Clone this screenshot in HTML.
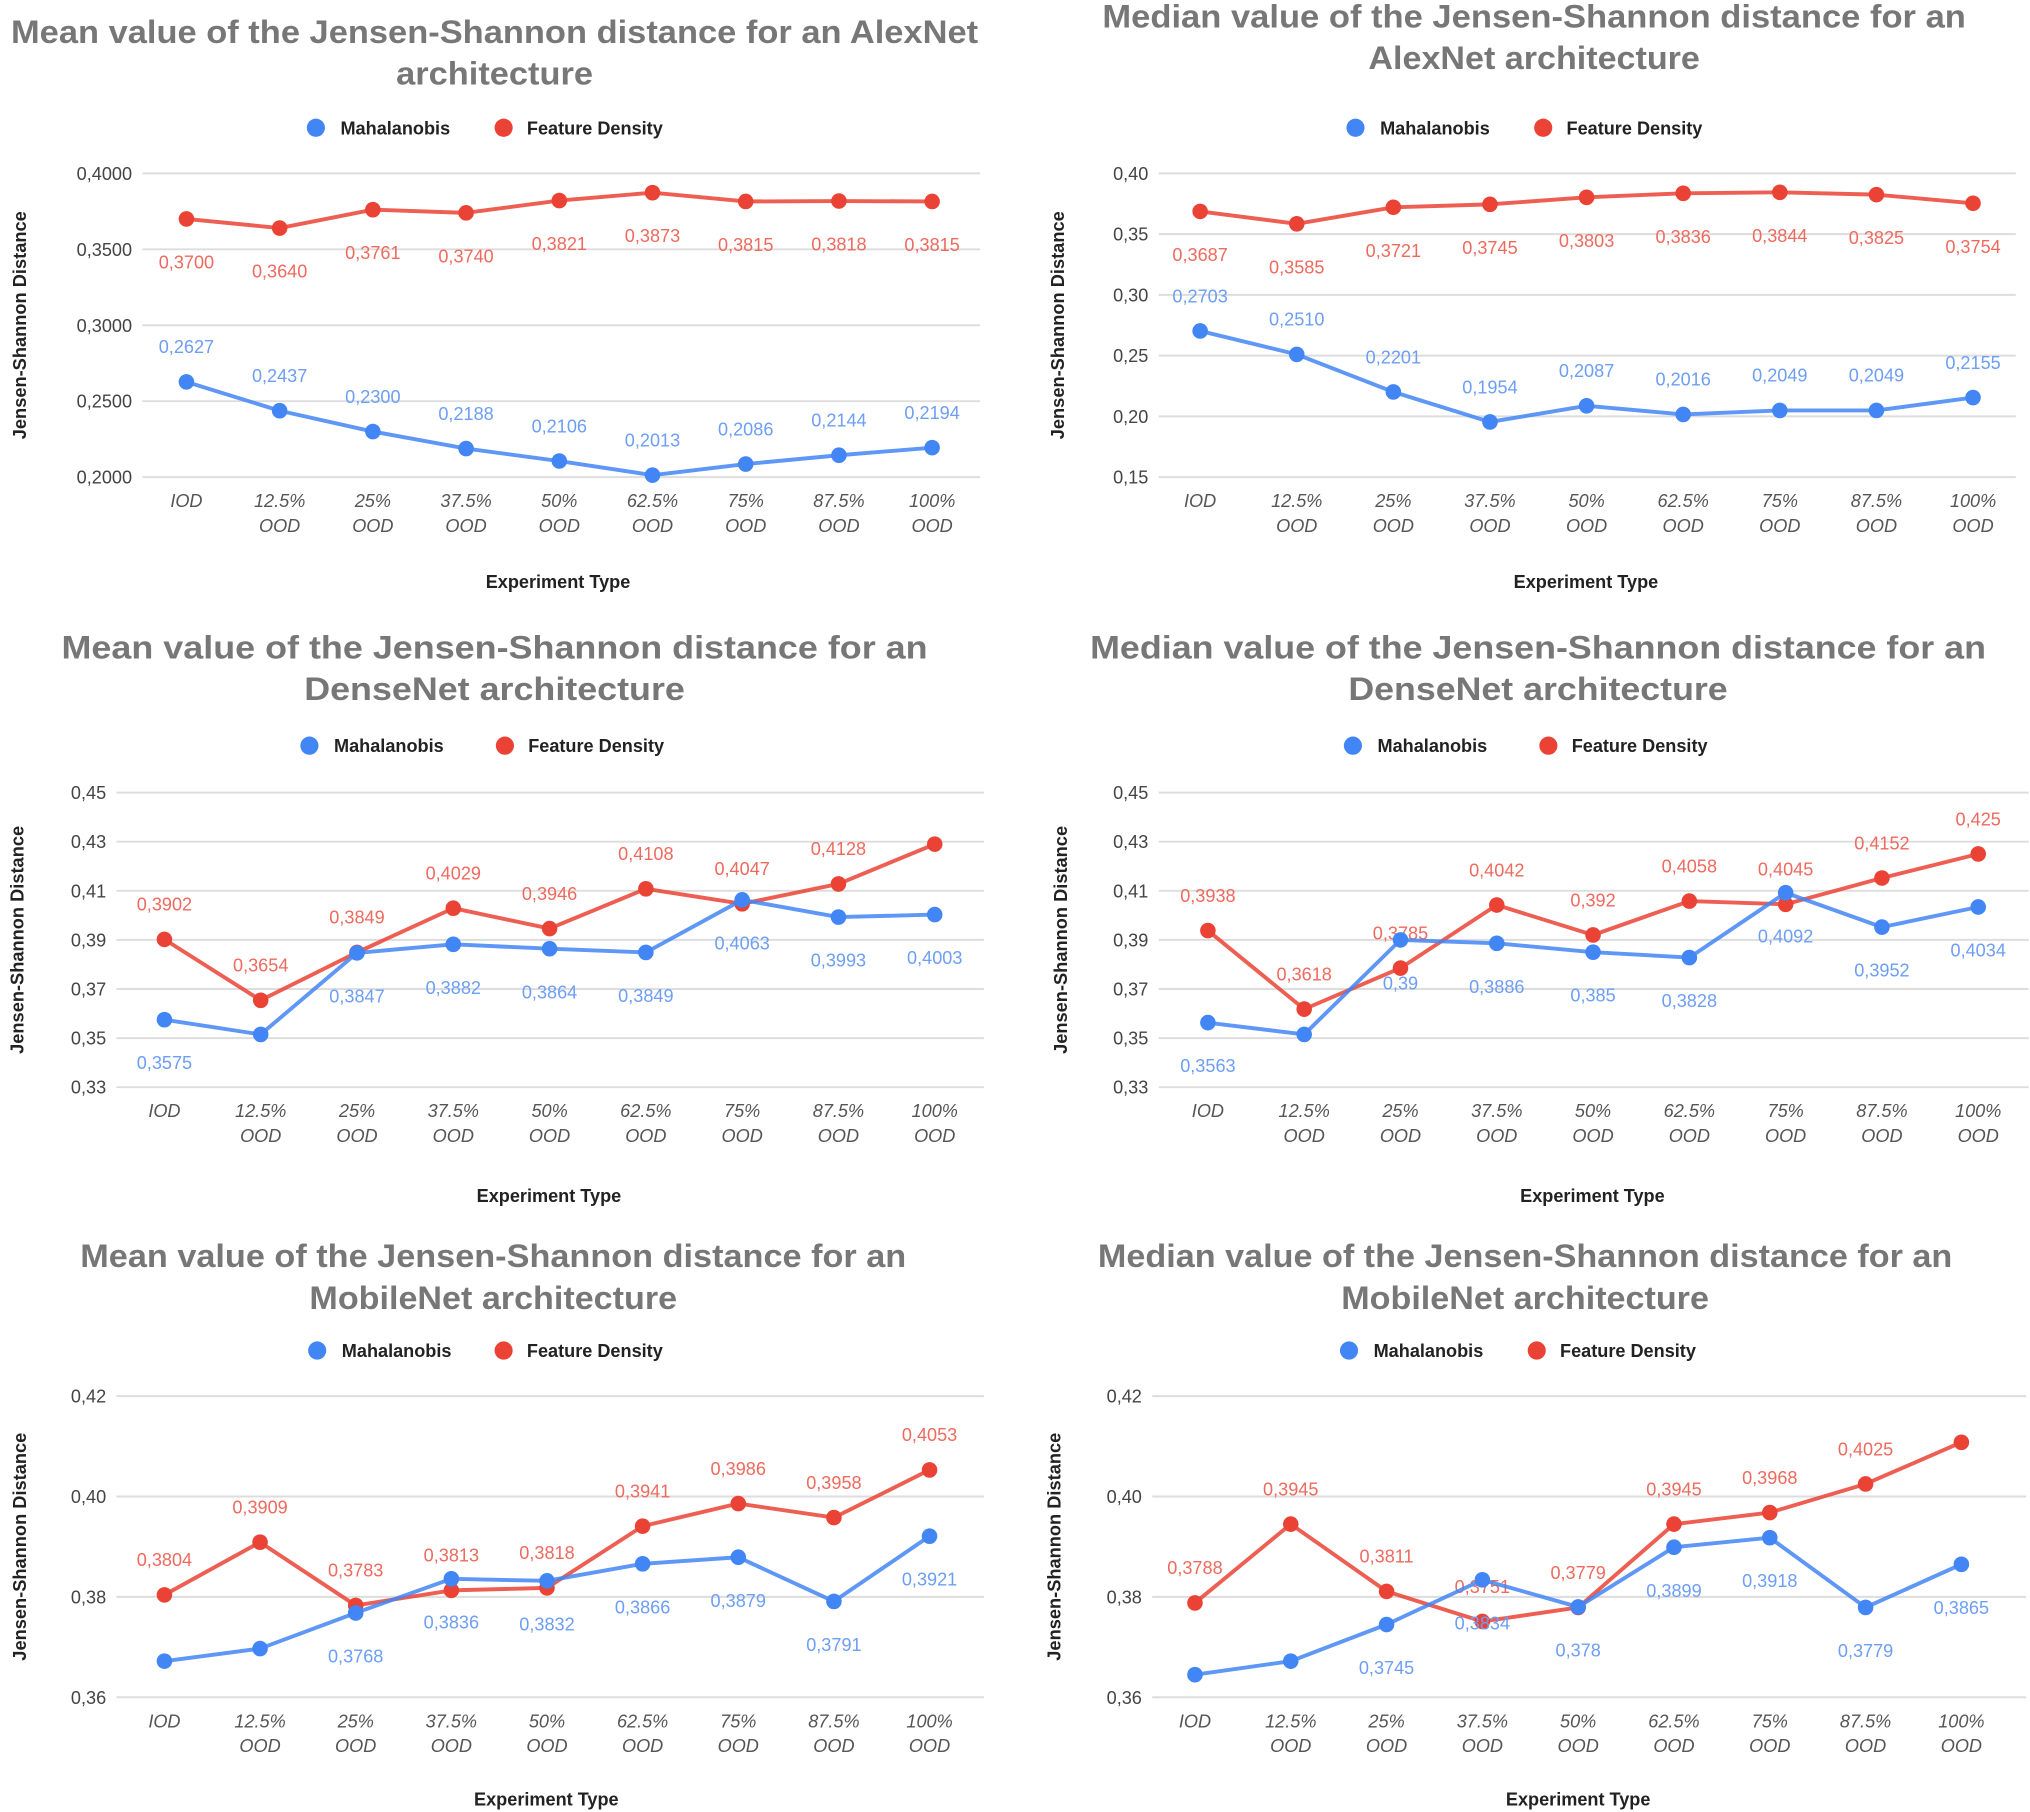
<!DOCTYPE html>
<html><head><meta charset="utf-8"><style>
html,body{margin:0;padding:0;background:#fff;}
svg{display:block;}
text{font-family:"Liberation Sans",sans-serif;}
</style></head><body>
<svg id="root" width="2030" height="1812" viewBox="0 0 1568 1390" preserveAspectRatio="none" xmlns="http://www.w3.org/2000/svg"></svg>
<script>
const categories = ["IOD","12.5%|OOD","25%|OOD","37.5%|OOD","50%|OOD","62.5%|OOD","75%|OOD","87.5%|OOD","100%|OOD"];

const c1Blue = [0.2627,0.2437,0.2300,0.2188,0.2106,0.2013,0.2086,0.2144,0.2194];
const c1Red  = [0.3700,0.3640,0.3761,0.3740,0.3821,0.3873,0.3815,0.3818,0.3815];
const c1BlueLbl = ["0,2627","0,2437","0,2300","0,2188","0,2106","0,2013","0,2086","0,2144","0,2194"];
const c1RedLbl  = ["0,3700","0,3640","0,3761","0,3740","0,3821","0,3873","0,3815","0,3818","0,3815"];
const c1Ticks = ["0,2000","0,2500","0,3000","0,3500","0,4000"];

const c2Blue = [0.2703,0.2510,0.2201,0.1954,0.2087,0.2016,0.2049,0.2049,0.2155];
const c2Red  = [0.3687,0.3585,0.3721,0.3745,0.3803,0.3836,0.3844,0.3825,0.3754];
const c2BlueLbl = ["0,2703","0,2510","0,2201","0,1954","0,2087","0,2016","0,2049","0,2049","0,2155"];
const c2RedLbl  = ["0,3687","0,3585","0,3721","0,3745","0,3803","0,3836","0,3844","0,3825","0,3754"];
const c2Ticks = ["0,15","0,20","0,25","0,30","0,35","0,40"];

const c3Blue = [0.3575,0.3515,0.3847,0.3882,0.3864,0.3849,0.4063,0.3993,0.4003];
const c3Red  = [0.3902,0.3654,0.3849,0.4029,0.3946,0.4108,0.4047,0.4128,0.4290];
const c3BlueLbl = ["0,3575","","0,3847","0,3882","0,3864","0,3849","0,4063","0,3993","0,4003"];
const c3RedLbl  = ["0,3902","0,3654","0,3849","0,4029","0,3946","0,4108","0,4047","0,4128",""];
const c3Ticks = ["0,33","0,35","0,37","0,39","0,41","0,43","0,45"];

const c4Blue = [0.3563,0.3515,0.3900,0.3886,0.3850,0.3828,0.4092,0.3952,0.4034];
const c4Red  = [0.3938,0.3618,0.3785,0.4042,0.3920,0.4058,0.4045,0.4152,0.4250];
const c4BlueLbl = ["0,3563","","0,39","0,3886","0,385","0,3828","0,4092","0,3952","0,4034"];
const c4RedLbl  = ["0,3938","0,3618","0,3785","0,4042","0,392","0,4058","0,4045","0,4152","0,425"];
const c4Ticks = ["0,33","0,35","0,37","0,39","0,41","0,43","0,45"];

const c5Blue = [0.3672,0.3697,0.3768,0.3836,0.3832,0.3866,0.3879,0.3791,0.3921];
const c5Red  = [0.3804,0.3909,0.3783,0.3813,0.3818,0.3941,0.3986,0.3958,0.4053];
const c5BlueLbl = ["","","0,3768","0,3836","0,3832","0,3866","0,3879","0,3791","0,3921"];
const c5RedLbl  = ["0,3804","0,3909","0,3783","0,3813","0,3818","0,3941","0,3986","0,3958","0,4053"];
const c5Ticks = ["0,36","0,38","0,40","0,42"];

const c6Blue = [0.3645,0.3672,0.3745,0.3834,0.3780,0.3899,0.3918,0.3779,0.3865];
const c6Red  = [0.3788,0.3945,0.3811,0.3751,0.3779,0.3945,0.3968,0.4025,0.4108];
const c6BlueLbl = ["","","0,3745","0,3834","0,378","0,3899","0,3918","0,3779","0,3865"];
const c6RedLbl  = ["0,3788","0,3945","0,3811","0,3751","0,3779","0,3945","0,3968","0,4025",""];
const c6Ticks = ["0,36","0,38","0,40","0,42"];

const NS = "http://www.w3.org/2000/svg";
const root = document.getElementById('root');
function mk(tag, attrs, parent, txt){
  const e = document.createElementNS(NS, tag);
  for (const k in attrs) e.setAttribute(k, attrs[k]);
  if (txt !== undefined) e.textContent = txt;
  parent.appendChild(e);
  return e;
}
const BLUE="#4285F4", RED="#EA4335", BLBL="#6D9EF5", RLBL="#EE6A5E";

function chart(cfg){
  const g = mk('g', {}, root);
  
  
  cfg.title.forEach((t,i)=>{
    const e = mk('text',{x:cfg.tcx,y:cfg.ty+i*32,'text-anchor':'middle','font-size':25,'font-weight':'bold',fill:'#777',textLength:cfg.tw[i],lengthAdjust:'spacingAndGlyphs'},g,t);
    
    
  });
  const lb = mk('circle',{cx:cfg.lg[0],cy:cfg.ly,r:7,fill:BLUE},g);
  
  
  const lbt = mk('text',{x:cfg.lg[0]+19,y:cfg.ly+5,'font-size':14,'font-weight':'bold',fill:'#222'},g,'Mahalanobis');
  
  
  const lr = mk('circle',{cx:cfg.lg[1],cy:cfg.ly,r:7,fill:RED},g);
  
  
  const lrt = mk('text',{x:cfg.lg[1]+18,y:cfg.ly+5,'font-size':14,'font-weight':'bold',fill:'#222'},g,'Feature Density');
  
  
  const ticks = cfg.ticks;
  const tv = ticks.map(s=>parseFloat(s.replace(',','.')));
  const ymin = tv[0], ymax = tv[tv.length-1];
  const Y = v => cfg.yBot - (v-ymin)/(ymax-ymin)*(cfg.yBot-cfg.yTop);
  const X = i => cfg.x0 + i*(cfg.x1-cfg.x0)/(categories.length-1);
  ticks.forEach((t,i)=>{
    const y = Y(tv[i]);
    const gl = mk('line',{x1:cfg.gx0,x2:cfg.gx1,y1:y,y2:y,stroke:'#ddd','stroke-width':1.5},g);
    
    
    const tl = mk('text',{x:cfg.gx0-8,y:y+5,'text-anchor':'end','font-size':14,fill:'#444'},g,t);
    
    
  });
  categories.forEach((c,i)=>{
    c.split('|').forEach((p,j)=>{
      const e = mk('text',{x:X(i),y:cfg.yBot+23+j*19,'text-anchor':'middle','font-size':14,'font-style':'italic',fill:'#555'},g,p);
      
      
    });
  });
  const xt = mk('text',{x:cfg.xtx,y:cfg.xty,'text-anchor':'middle','font-size':14,'font-weight':'bold',fill:'#222'},g,'Experiment Type');
  
  
  const ycy = (cfg.yTop+cfg.yBot)/2;
  const yt = mk('text',{x:cfg.ytx,y:ycy,'text-anchor':'middle','font-size':14,'font-weight':'bold',fill:'#222',transform:`rotate(-90 ${cfg.ytx} ${ycy})`},g,'Jensen-Shannon Distance');
  
  
  [[cfg.red,cfg.redLbl,RED,RLBL,cfg.redPos,'feature-density'],[cfg.blue,cfg.blueLbl,BLUE,BLBL,cfg.bluePos,'mahalanobis']].forEach(s=>{
    const [vals,lbls,col,lcol,pos,nm]=s;
    const pts = vals.map((v,i)=>X(i)+','+Y(v)).join(' ');
    const pl = mk('polyline',{points:pts,fill:'none',stroke:col,'stroke-width':3,'stroke-linejoin':'round',opacity:0.85},g);
    
    
    vals.forEach((v,i)=>{
      const c = mk('circle',{cx:X(i),cy:Y(v),r:6,fill:col},g);
      
      
      if (lbls[i]) {
        const ly = pos==='above' ? Y(v)-22 : Y(v)+38;
        const t = mk('text',{x:X(i),y:ly,'text-anchor':'middle','font-size':14,fill:lcol},g,lbls[i]);
        
        
      }
    });
  });
}

chart({name:'chart-mean-alexnet',title:['Mean value of the Jensen-Shannon distance for an AlexNet','architecture'],tw:[747,152],tcx:382,ty:33,lg:[244,389],ly:98,
  ticks:c1Ticks,yTop:133,yBot:366,gx0:110,gx1:757,x0:144,x1:720,xtx:431,xty:451,ytx:20,
  blue:c1Blue,red:c1Red,blueLbl:c1BlueLbl,redLbl:c1RedLbl,bluePos:'above',redPos:'below'});
chart({name:'chart-median-alexnet',title:['Median value of the Jensen-Shannon distance for an','AlexNet architecture'],tw:[667,256],tcx:1185,ty:21,lg:[1047,1192],ly:98,
  ticks:c2Ticks,yTop:133,yBot:366,gx0:895,gx1:1557,x0:927,x1:1524,xtx:1225,xty:451,ytx:822,
  blue:c2Blue,red:c2Red,blueLbl:c2BlueLbl,redLbl:c2RedLbl,bluePos:'above',redPos:'below'});
chart({name:'chart-mean-densenet',title:['Mean value of the Jensen-Shannon distance for an','DenseNet architecture'],tw:[669,294],tcx:382,ty:505,lg:[239,390],ly:572,
  ticks:c3Ticks,yTop:608,yBot:834,gx0:90,gx1:760,x0:127,x1:722,xtx:424,xty:922,ytx:18,
  blue:c3Blue,red:c3Red,blueLbl:c3BlueLbl,redLbl:c3RedLbl,bluePos:'below',redPos:'above'});
chart({name:'chart-median-densenet',title:['Median value of the Jensen-Shannon distance for an','DenseNet architecture'],tw:[692,293],tcx:1188,ty:505,lg:[1045,1196],ly:572,
  ticks:c4Ticks,yTop:608,yBot:834,gx0:895,gx1:1567,x0:933,x1:1528,xtx:1230,xty:922,ytx:824,
  blue:c4Blue,red:c4Red,blueLbl:c4BlueLbl,redLbl:c4RedLbl,bluePos:'below',redPos:'above'});
chart({name:'chart-mean-mobilenet',title:['Mean value of the Jensen-Shannon distance for an','MobileNet architecture'],tw:[638,284],tcx:381,ty:972,lg:[245,389],ly:1036,
  ticks:c5Ticks,yTop:1071,yBot:1302,gx0:90,gx1:760,x0:127,x1:718,xtx:422,xty:1385,ytx:20,
  blue:c5Blue,red:c5Red,blueLbl:c5BlueLbl,redLbl:c5RedLbl,bluePos:'below',redPos:'above'});
chart({name:'chart-median-mobilenet',title:['Median value of the Jensen-Shannon distance for an','MobileNet architecture'],tw:[660,284],tcx:1178,ty:972,lg:[1042,1187],ly:1036,
  ticks:c6Ticks,yTop:1071,yBot:1302,gx0:890,gx1:1565,x0:923,x1:1515,xtx:1219,xty:1385,ytx:819,
  blue:c6Blue,red:c6Red,blueLbl:c6BlueLbl,redLbl:c6RedLbl,bluePos:'below',redPos:'above'});
</script>
</body></html>
